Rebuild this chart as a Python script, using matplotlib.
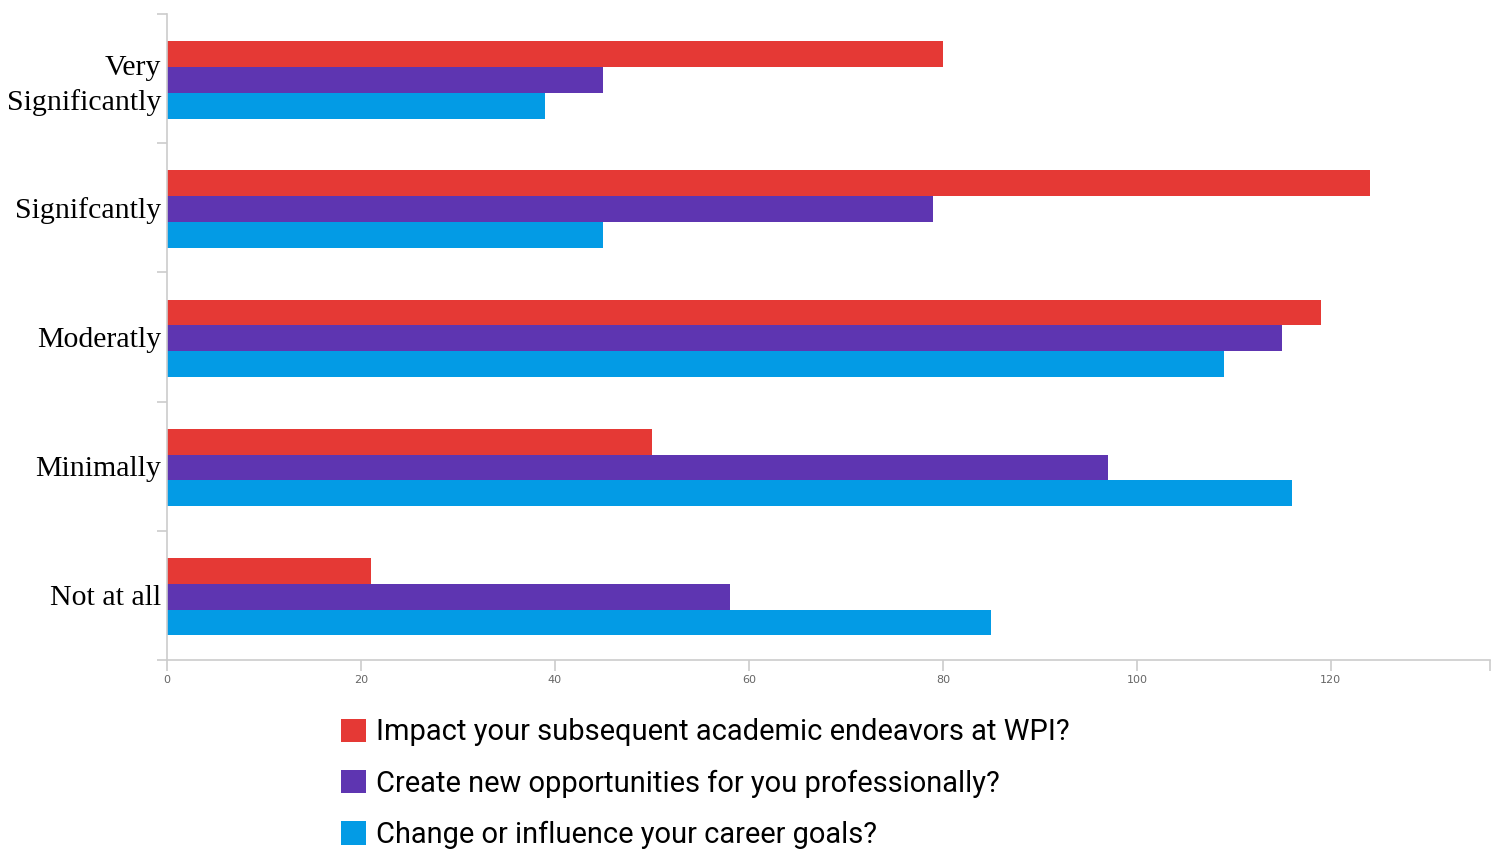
import matplotlib

matplotlib.use("Agg")
import matplotlib.pyplot as plt
import numpy as np
from matplotlib.patches import Patch

categories = ["Very\nSignificantly", "Signifcantly", "Moderatly", "Minimally", "Not at all"]
series_names = [
    "Impact your subsequent academic endeavors at WPI?",
    "Create new opportunities for you professionally?",
    "Change or influence your career goals?",
]
academic = [80, 124, 119, 50, 21]
professional = [45, 79, 115, 97, 58]
career = [39, 45, 109, 116, 85]
x_ticks = [0, 20, 40, 60, 80, 100, 120]

colors = ["#E53935", "#5E35B1", "#039BE5"]

fig = plt.figure(figsize=(15, 8.5), dpi=100)
ax = fig.add_axes([0.1113, 0.2235, 0.882, 0.76])

n = len(categories)
pos = np.arange(n)
bh = 0.2
for k, vals in enumerate([academic, professional, career]):
    ax.barh(pos + (k - 1) * bh + 0.01, vals, height=bh, color=colors[k], zorder=2)

ax.set_ylim(n - 0.5, -0.5)
ax.set_xlim(0, 136.4)

ax.set_yticks(pos)
ax.set_yticklabels(categories, fontsize=21.5, family="Liberation Serif",
                   linespacing=1.4)
ax.tick_params(axis="y", which="major", length=0, pad=4)
ax.set_yticks(np.arange(n + 1) - 0.5, minor=True)
ax.tick_params(axis="y", which="minor", length=7, color="#cccccc", width=1.2)

ax.set_xticks(x_ticks + [136.4])
ax.set_xticklabels([str(t) for t in x_ticks] + [""], fontsize=8, color="#666666")
ax.tick_params(axis="x", length=8, color="#cccccc", width=1.2, pad=3)

for s in ["top", "right"]:
    ax.spines[s].set_visible(False)
for s in ["left", "bottom"]:
    ax.spines[s].set_color("#cccccc")
    ax.spines[s].set_linewidth(1.2)

handles = [Patch(facecolor=c, edgecolor="none") for c in colors]
fig.legend(handles, series_names, loc="upper left", bbox_to_anchor=(0.2273, 0.155),
           frameon=False, prop={"family": "Roboto", "size": 20.9},
           handlelength=0.86, handleheight=0.86, handletextpad=0.34,
           labelspacing=0.8, borderpad=0, borderaxespad=0)

fig.savefig("out.png", dpi=100)
